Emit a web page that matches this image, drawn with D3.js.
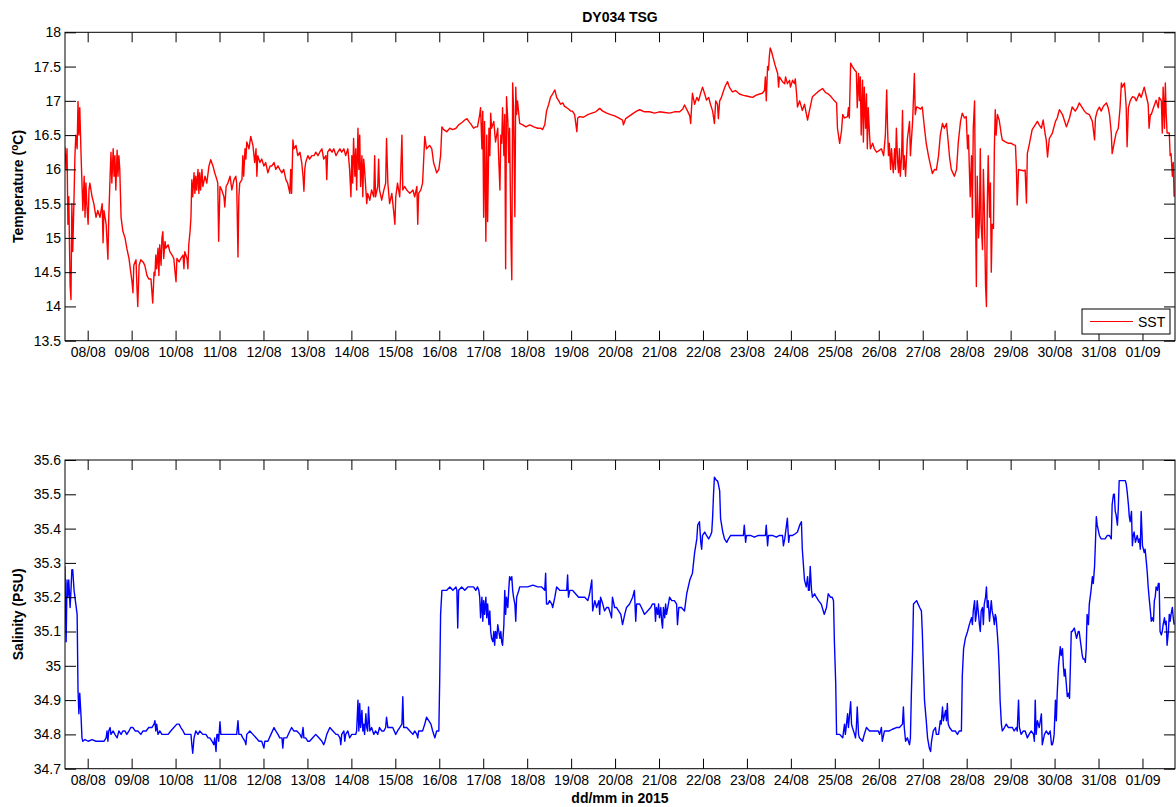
<!DOCTYPE html>
<html>
<head>
<meta charset="utf-8">
<script src="https://cdn.jsdelivr.net/npm/d3@7"></script>
<style>
body { margin: 0; background: #fff; }
svg text { font-family: "Liberation Sans", Arial, Helvetica, sans-serif; fill: #000; }
.tick line { stroke: #000; }
.tick text { font-size: 14px; }
</style>
</head>
<body>
<script>
// time is day of August 2015 (32 = 01/09)
var xStart = 7.484, xEnd = 32.74;

var tempTicks = [13.5, 14, 14.5, 15, 15.5, 16, 16.5, 17, 17.5, 18];
var salTicks = [34.7, 34.8, 34.9, 35, 35.1, 35.2, 35.3, 35.4, 35.5, 35.6];

// sea surface temperature (degC)
var sstData = [
[7.48,16.33],[7.51,16.0],[7.53,16.3],[7.55,15.2],[7.57,15.6],[7.60,14.3],[7.62,14.1],[7.64,15.5],[7.66,14.8],[7.69,15.6],[7.71,16.2],[7.73,16.5],[7.76,16.3],[7.78,16.99],[7.80,16.5],[7.82,16.9],[7.85,16.2],[7.87,15.8],[7.89,15.4],[7.92,15.9],[7.94,15.3],[7.96,15.8],[7.98,15.5],
[8.01,15.2],[8.03,15.7],[8.05,15.8],[8.10,15.6],[8.14,15.5],[8.19,15.3],[8.23,15.4],[8.28,15.3],[8.33,15.5],[8.35,14.93],[8.37,15.4],[8.42,15.2],[8.46,14.69],[8.48,15.3],[8.51,15.9],[8.53,16.25],[8.55,15.8],[8.58,16.3],[8.60,15.9],[8.62,16.2],[8.64,15.7],[8.67,16.28],[8.69,15.9],[8.71,16.2],[8.73,16.0],[8.76,15.3],[8.80,15.1],[8.85,15.0],[8.89,14.85],[8.94,14.7],[8.98,14.5],
[9.01,14.35],[9.03,14.2],[9.05,14.6],[9.10,14.68],[9.12,14.3],[9.14,14.0],[9.17,14.6],[9.21,14.68],[9.26,14.65],[9.30,14.6],[9.35,14.45],[9.39,14.4],[9.44,14.4],[9.48,14.05],[9.51,14.5],[9.53,14.45],[9.55,14.75],[9.57,14.55],[9.60,14.85],[9.62,14.45],[9.64,14.9],[9.67,14.6],[9.69,15.0],[9.71,15.09],[9.73,14.7],[9.76,14.95],[9.78,14.85],[9.83,14.9],[9.87,14.8],[9.92,14.75],[9.96,14.7],[9.98,14.55],
[10.01,14.36],[10.03,14.7],[10.08,14.65],[10.12,14.7],[10.17,14.75],[10.19,14.55],[10.21,14.8],[10.26,14.7],[10.28,14.55],[10.30,14.9],[10.33,15.1],[10.35,15.3],[10.37,15.85],[10.39,15.6],[10.42,15.95],[10.44,15.65],[10.46,15.9],[10.48,15.7],[10.51,16.0],[10.53,15.65],[10.55,15.95],[10.57,15.7],[10.60,16.0],[10.62,15.75],[10.67,15.9],[10.71,15.8],[10.76,16.05],[10.80,16.14],[10.85,16.05],[10.89,15.95],[10.94,15.85],[10.96,15.8],[10.98,14.95],
[11.01,15.75],[11.05,15.7],[11.10,15.6],[11.12,15.45],[11.15,15.75],[11.19,15.8],[11.24,15.9],[11.28,15.7],[11.33,15.85],[11.37,15.9],[11.39,15.8],[11.42,14.72],[11.44,15.6],[11.46,15.8],[11.51,15.85],[11.53,16.2],[11.55,15.9],[11.58,16.3],[11.60,16.15],[11.62,16.4],[11.67,16.3],[11.71,16.48],[11.76,16.35],[11.80,16.1],[11.83,16.3],[11.85,15.9],[11.87,16.2],[11.92,16.1],[11.96,16.15],
[12.01,16.05],[12.05,16.1],[12.10,15.95],[12.15,16.05],[12.19,16.05],[12.24,16.1],[12.28,16.0],[12.33,16.05],[12.37,16.0],[12.42,15.95],[12.46,16.0],[12.51,15.85],[12.55,15.8],[12.60,15.65],[12.62,16.0],[12.64,15.65],[12.67,16.43],[12.69,16.3],[12.74,16.35],[12.78,16.2],[12.83,16.25],[12.87,16.1],[12.90,15.9],[12.92,15.68],[12.94,16.0],[12.96,16.1],
[13.01,16.2],[13.05,16.15],[13.10,16.2],[13.15,16.2],[13.19,16.25],[13.24,16.2],[13.28,16.25],[13.33,16.3],[13.37,16.15],[13.42,16.2],[13.44,15.85],[13.46,16.25],[13.51,16.3],[13.56,16.25],[13.60,16.3],[13.65,16.2],[13.69,16.25],[13.74,16.3],[13.78,16.25],[13.83,16.3],[13.87,16.2],[13.92,16.3],[13.96,16.0],[13.99,15.6],
[14.01,16.2],[14.03,15.8],[14.05,16.45],[14.08,15.9],[14.10,16.3],[14.12,15.7],[14.15,16.6],[14.17,16.0],[14.19,16.5],[14.21,15.75],[14.24,16.2],[14.26,15.6],[14.28,16.15],[14.30,16.0],[14.33,15.7],[14.35,15.5],[14.37,15.65],[14.42,15.55],[14.46,15.7],[14.51,15.6],[14.53,16.2],[14.55,15.6],[14.60,15.75],[14.62,16.15],[14.64,15.7],[14.69,15.55],[14.74,15.7],[14.78,15.8],[14.80,16.45],[14.83,15.8],[14.87,15.5],[14.92,15.65],[14.96,15.4],[14.99,15.2],
[15.01,15.6],[15.05,15.8],[15.10,15.6],[15.12,15.9],[15.15,16.5],[15.17,15.7],[15.21,15.75],[15.26,15.7],[15.33,15.65],[15.40,15.7],[15.44,15.6],[15.49,15.75],[15.51,15.2],[15.53,15.65],[15.58,15.7],[15.62,15.8],[15.67,16.48],[15.71,16.3],[15.78,16.35],[15.83,16.3],[15.87,16.1],[15.90,16.04],[15.94,15.95],[15.99,16.0],
[16.03,16.2],[16.06,16.62],[16.10,16.58],[16.17,16.55],[16.24,16.6],[16.31,16.58],[16.38,16.6],[16.44,16.65],[16.51,16.68],[16.58,16.72],[16.63,16.74],[16.67,16.7],[16.72,16.66],[16.78,16.6],[16.83,16.62],[16.87,16.62],[16.92,16.8],[16.94,16.9],[16.97,16.3],[16.99,16.85],
[17.01,15.3],[17.03,16.7],[17.06,14.95],[17.08,16.5],[17.10,15.24],[17.13,16.6],[17.15,16.2],[17.17,16.82],[17.19,16.6],[17.24,16.7],[17.28,16.4],[17.33,16.6],[17.35,16.2],[17.38,15.7],[17.40,16.5],[17.42,16.38],[17.44,16.9],[17.47,16.2],[17.49,16.8],[17.51,14.55],[17.53,17.06],[17.56,16.7],[17.58,16.1],[17.60,16.6],[17.63,15.0],[17.65,14.39],[17.67,17.26],[17.69,16.9],[17.72,15.31],[17.74,17.2],[17.76,16.8],[17.78,17.0],[17.83,16.67],[17.90,16.65],[17.97,16.62],
[18.06,16.65],[18.15,16.62],[18.24,16.6],[18.31,16.6],[18.35,16.58],[18.40,16.65],[18.44,16.85],[18.49,16.95],[18.53,17.05],[18.58,17.1],[18.63,17.16],[18.67,17.05],[18.72,17.0],[18.76,16.95],[18.81,16.97],[18.85,16.92],[18.90,16.9],[18.94,16.88],[18.99,16.85],
[19.03,16.85],[19.08,16.8],[19.13,16.55],[19.15,16.75],[19.19,16.77],[19.28,16.76],[19.38,16.8],[19.47,16.82],[19.56,16.84],[19.65,16.89],[19.72,16.85],[19.81,16.82],[19.90,16.8],[19.99,16.78],
[20.08,16.75],[20.17,16.72],[20.19,16.65],[20.24,16.74],[20.33,16.78],[20.42,16.82],[20.49,16.85],[20.56,16.87],[20.67,16.84],[20.78,16.84],[20.90,16.82],
[21.01,16.84],[21.13,16.83],[21.24,16.82],[21.35,16.84],[21.47,16.84],[21.54,16.88],[21.58,16.94],[21.65,16.85],[21.70,16.78],[21.72,16.67],[21.74,16.9],[21.76,17.11],[21.81,16.95],[21.86,17.05],[21.90,17.0],[21.95,17.12],
[21.99,17.2],[22.04,17.1],[22.08,17.01],[22.13,17.05],[22.17,16.95],[22.22,16.85],[22.26,16.67],[22.29,17.0],[22.33,16.95],[22.35,16.74],[22.38,17.0],[22.42,17.05],[22.47,17.15],[22.51,17.22],[22.56,17.28],[22.60,17.2],[22.67,17.13],[22.74,17.15],[22.83,17.1],[22.92,17.08],
[22.99,17.07],[23.06,17.06],[23.13,17.05],[23.20,17.08],[23.29,17.1],[23.35,17.11],[23.40,17.15],[23.42,17.35],[23.44,17.0],[23.47,17.5],[23.49,17.45],[23.51,17.65],[23.53,17.77],[23.56,17.72],[23.60,17.62],[23.65,17.5],[23.70,17.4],[23.72,17.2],[23.74,17.35],[23.79,17.3],[23.81,17.28],[23.86,17.25],[23.88,17.35],[23.92,17.25],[23.97,17.3],
[23.99,17.2],[24.04,17.3],[24.08,17.25],[24.10,17.32],[24.13,17.1],[24.15,16.91],[24.20,17.0],[24.26,16.86],[24.31,16.95],[24.38,16.72],[24.42,16.85],[24.49,17.06],[24.56,17.1],[24.65,17.15],[24.72,17.18],[24.79,17.12],[24.85,17.1],[24.90,17.07],[24.94,17.04],[24.99,17.0],
[25.04,16.97],[25.06,16.6],[25.11,16.38],[25.15,16.55],[25.18,16.8],[25.22,16.75],[25.29,16.77],[25.31,16.9],[25.33,16.75],[25.36,17.55],[25.40,17.5],[25.45,17.45],[25.49,17.42],[25.51,16.9],[25.54,17.4],[25.56,17.0],[25.58,17.35],[25.60,16.5],[25.63,17.3],[25.65,16.4],[25.67,17.2],[25.70,16.6],[25.72,17.1],[25.74,16.3],[25.76,16.9],[25.79,16.5],[25.81,16.3],[25.86,16.38],[25.90,16.3],[25.95,16.25],
[26.02,16.28],[26.06,16.3],[26.11,16.2],[26.15,16.5],[26.18,17.16],[26.20,16.6],[26.22,16.2],[26.24,16.38],[26.27,16.0],[26.29,16.3],[26.31,16.1],[26.33,15.95],[26.36,16.3],[26.38,16.0],[26.40,16.6],[26.43,16.1],[26.45,15.95],[26.47,16.3],[26.49,15.9],[26.52,16.2],[26.54,16.86],[26.56,16.0],[26.58,16.2],[26.61,15.9],[26.65,16.44],[26.70,16.7],[26.72,16.2],[26.77,16.7],[26.81,17.4],[26.83,16.8],[26.86,16.91],[26.90,16.9],[26.95,16.88],
[26.99,16.91],[27.04,16.6],[27.08,16.38],[27.13,16.2],[27.18,16.05],[27.22,15.94],[27.27,16.0],[27.31,15.99],[27.36,16.2],[27.40,16.5],[27.45,16.67],[27.49,16.6],[27.54,16.67],[27.58,16.4],[27.61,16.18],[27.65,16.0],[27.72,15.9],[27.77,16.0],[27.81,16.4],[27.86,16.7],[27.90,16.82],[27.95,16.75],[27.99,16.77],
[28.02,16.3],[28.04,16.5],[28.06,16.04],[28.08,15.6],[28.11,16.2],[28.13,15.3],[28.15,16.6],[28.18,17.0],[28.20,15.5],[28.22,14.29],[28.24,15.9],[28.27,15.0],[28.29,15.26],[28.31,16.3],[28.33,15.2],[28.36,14.83],[28.38,16.0],[28.40,15.5],[28.43,14.3],[28.45,14.0],[28.47,15.5],[28.49,16.2],[28.52,15.3],[28.54,15.8],[28.56,14.5],[28.58,15.2],[28.61,15.14],[28.63,16.3],[28.65,16.87],[28.67,16.5],[28.70,16.8],[28.74,16.72],[28.79,16.5],[28.81,16.43],[28.88,16.4],[28.95,16.38],
[29.02,16.38],[29.06,16.36],[29.11,16.35],[29.13,16.04],[29.15,15.48],[29.18,16.0],[29.22,15.99],[29.29,15.98],[29.33,15.99],[29.36,15.51],[29.38,16.23],[29.42,16.35],[29.49,16.58],[29.56,16.65],[29.61,16.7],[29.65,16.65],[29.70,16.6],[29.74,16.72],[29.79,16.5],[29.81,16.43],[29.84,16.18],[29.88,16.45],[29.95,16.53],
[30.02,16.7],[30.06,16.75],[30.11,16.87],[30.18,16.8],[30.22,16.72],[30.27,16.62],[30.34,16.75],[30.40,16.91],[30.47,16.85],[30.52,16.9],[30.56,16.97],[30.63,16.9],[30.68,16.85],[30.72,16.82],[30.79,16.8],[30.86,16.7],[30.91,16.43],[30.93,16.75],[30.97,16.85],
[31.02,16.91],[31.06,16.85],[31.11,16.92],[31.18,16.97],[31.22,16.9],[31.25,16.8],[31.29,16.53],[31.31,16.23],[31.36,16.4],[31.40,16.53],[31.45,16.6],[31.49,16.9],[31.52,17.26],[31.54,17.2],[31.59,17.26],[31.61,17.1],[31.63,16.9],[31.65,16.33],[31.68,16.9],[31.72,17.0],[31.77,17.06],[31.82,17.05],[31.86,17.0],[31.93,17.11],[31.97,17.05],
[32.04,17.2],[32.09,17.06],[32.13,16.95],[32.15,16.6],[32.18,16.8],[32.20,16.8],[32.25,16.9],[32.31,17.01],[32.36,16.9],[32.38,17.05],[32.43,17.0],[32.45,16.53],[32.47,17.2],[32.50,16.6],[32.52,17.26],[32.54,16.8],[32.56,16.53],[32.61,16.53],[32.63,16.2],[32.65,16.23],[32.68,15.9],[32.70,16.1],[32.72,15.6]
];

// salinity (PSU)
var salData = [
[7.48,35.29],[7.51,35.07],[7.53,35.25],[7.55,35.2],[7.57,35.25],[7.60,35.17],[7.62,35.22],[7.64,35.28],[7.66,35.28],[7.69,35.22],[7.71,35.2],[7.73,35.18],[7.76,35.15],[7.78,34.93],[7.80,34.86],[7.82,34.92],[7.85,34.85],[7.87,34.79],[7.89,34.78],[7.94,34.785],
[8.01,34.78],[8.10,34.785],[8.19,34.78],[8.28,34.78],[8.37,34.78],[8.42,34.79],[8.44,34.81],[8.46,34.78],[8.48,34.81],[8.51,34.82],[8.53,34.8],[8.58,34.81],[8.62,34.8],[8.67,34.79],[8.71,34.81],[8.76,34.8],[8.80,34.81],[8.85,34.81],[8.89,34.8],[8.94,34.81],[8.98,34.82],
[9.03,34.82],[9.08,34.81],[9.14,34.81],[9.21,34.8],[9.26,34.81],[9.33,34.81],[9.39,34.82],[9.46,34.82],[9.51,34.83],[9.53,34.84],[9.55,34.81],[9.57,34.83],[9.60,34.8],[9.64,34.81],[9.69,34.8],[9.73,34.8],[9.78,34.8],[9.83,34.8],[9.89,34.81],[9.96,34.82],
[10.03,34.83],[10.08,34.83],[10.12,34.82],[10.17,34.81],[10.21,34.8],[10.26,34.8],[10.30,34.8],[10.35,34.8],[10.37,34.77],[10.39,34.745],[10.42,34.79],[10.46,34.81],[10.51,34.8],[10.55,34.81],[10.62,34.8],[10.69,34.8],[10.74,34.79],[10.78,34.79],[10.83,34.78],[10.87,34.77],[10.89,34.79],[10.92,34.75],[10.94,34.8],[10.96,34.8],[10.98,34.78],
[11.01,34.837],[11.03,34.8],[11.08,34.8],[11.15,34.8],[11.21,34.8],[11.28,34.8],[11.35,34.8],[11.39,34.8],[11.42,34.84],[11.44,34.8],[11.49,34.8],[11.53,34.79],[11.58,34.78],[11.60,34.77],[11.62,34.8],[11.69,34.81],[11.76,34.8],[11.83,34.79],[11.90,34.78],[11.96,34.78],
[12.01,34.76],[12.03,34.78],[12.10,34.78],[12.17,34.8],[12.24,34.82],[12.28,34.81],[12.33,34.8],[12.37,34.79],[12.42,34.79],[12.44,34.76],[12.46,34.79],[12.53,34.79],[12.60,34.81],[12.64,34.82],[12.69,34.81],[12.76,34.81],[12.83,34.8],[12.87,34.79],[12.90,34.82],[12.92,34.79],[12.96,34.79],
[13.01,34.78],[13.05,34.78],[13.12,34.79],[13.19,34.8],[13.26,34.79],[13.33,34.78],[13.37,34.77],[13.40,34.78],[13.44,34.8],[13.51,34.82],[13.58,34.81],[13.65,34.8],[13.69,34.8],[13.74,34.79],[13.76,34.77],[13.78,34.8],[13.83,34.81],[13.85,34.78],[13.87,34.8],[13.92,34.81],[13.96,34.79],
[14.01,34.8],[14.05,34.8],[14.10,34.8],[14.12,34.81],[14.15,34.9],[14.17,34.81],[14.19,34.89],[14.21,34.82],[14.24,34.87],[14.26,34.81],[14.28,34.83],[14.30,34.8],[14.33,34.86],[14.35,34.82],[14.37,34.81],[14.39,34.88],[14.42,34.81],[14.46,34.82],[14.51,34.8],[14.55,34.81],[14.60,34.8],[14.64,34.82],[14.69,34.81],[14.74,34.81],[14.78,34.82],[14.80,34.85],[14.83,34.82],[14.87,34.82],[14.94,34.82],
[15.01,34.8],[15.05,34.81],[15.10,34.82],[15.15,34.83],[15.17,34.91],[15.19,34.82],[15.26,34.82],[15.33,34.81],[15.40,34.8],[15.44,34.81],[15.49,34.8],[15.51,34.79],[15.53,34.81],[15.58,34.81],[15.62,34.81],[15.67,34.83],[15.71,34.85],[15.76,34.84],[15.81,34.83],[15.85,34.81],[15.90,34.79],[15.94,34.81],[15.99,34.81],
[16.01,34.96],[16.03,35.15],[16.06,35.22],[16.10,35.22],[16.17,35.22],[16.24,35.23],[16.31,35.22],[16.38,35.23],[16.40,35.22],[16.42,35.11],[16.44,35.22],[16.51,35.23],[16.58,35.22],[16.65,35.23],[16.72,35.23],[16.78,35.23],[16.83,35.22],[16.87,35.23],[16.90,35.22],[16.92,35.2],[16.94,35.14],[16.97,35.2],[16.99,35.13],
[17.01,35.19],[17.03,35.15],[17.06,35.2],[17.08,35.14],[17.10,35.18],[17.13,35.12],[17.15,35.16],[17.17,35.1],[17.19,35.08],[17.22,35.07],[17.24,35.1],[17.26,35.06],[17.28,35.1],[17.31,35.08],[17.33,35.12],[17.38,35.08],[17.40,35.1],[17.42,35.07],[17.44,35.06],[17.47,35.12],[17.49,35.22],[17.51,35.15],[17.53,35.2],[17.56,35.17],[17.58,35.22],[17.60,35.26],[17.63,35.25],[17.65,35.26],[17.67,35.22],[17.69,35.2],[17.72,35.18],[17.74,35.13],[17.76,35.2],[17.81,35.22],[17.83,35.23],[17.92,35.23],
[18.01,35.23],[18.13,35.235],[18.24,35.23],[18.33,35.23],[18.40,35.22],[18.42,35.27],[18.44,35.18],[18.47,35.18],[18.51,35.19],[18.56,35.18],[18.58,35.17],[18.63,35.2],[18.67,35.23],[18.74,35.22],[18.81,35.22],[18.88,35.22],[18.90,35.22],[18.92,35.265],[18.94,35.2],[18.97,35.22],
[19.03,35.22],[19.10,35.21],[19.17,35.2],[19.24,35.2],[19.31,35.2],[19.38,35.19],[19.42,35.21],[19.47,35.25],[19.49,35.16],[19.54,35.19],[19.58,35.17],[19.63,35.19],[19.65,35.15],[19.67,35.2],[19.72,35.18],[19.76,35.16],[19.81,35.17],[19.85,35.17],[19.90,35.15],[19.92,35.14],[19.94,35.2],[19.99,35.17],
[20.03,35.17],[20.08,35.16],[20.13,35.15],[20.17,35.12],[20.22,35.15],[20.26,35.17],[20.33,35.18],[20.40,35.2],[20.44,35.22],[20.47,35.13],[20.49,35.18],[20.56,35.18],[20.60,35.17],[20.67,35.15],[20.74,35.16],[20.81,35.17],[20.85,35.18],[20.90,35.18],[20.92,35.13],[20.94,35.17],[20.97,35.15],[20.99,35.18],
[21.01,35.14],[21.04,35.17],[21.06,35.13],[21.08,35.11],[21.10,35.17],[21.13,35.14],[21.15,35.18],[21.17,35.15],[21.20,35.17],[21.24,35.2],[21.29,35.19],[21.35,35.19],[21.40,35.18],[21.42,35.12],[21.45,35.17],[21.51,35.17],[21.58,35.16],[21.63,35.21],[21.70,35.25],[21.76,35.27],[21.81,35.33],[21.86,35.37],[21.88,35.41],[21.92,35.42],[21.95,35.36],[21.97,35.34],
[21.99,35.38],[22.04,35.39],[22.08,35.38],[22.13,35.37],[22.17,35.38],[22.20,35.39],[22.22,35.435],[22.24,35.5],[22.26,35.55],[22.31,35.54],[22.33,35.54],[22.35,35.53],[22.38,35.51],[22.40,35.43],[22.45,35.39],[22.49,35.37],[22.54,35.36],[22.58,35.37],[22.63,35.38],[22.67,35.38],[22.76,35.38],[22.85,35.38],[22.92,35.38],[22.94,35.41],[22.97,35.36],
[22.99,35.38],[23.08,35.38],[23.17,35.375],[23.26,35.38],[23.35,35.38],[23.42,35.38],[23.44,35.41],[23.47,35.35],[23.49,35.38],[23.58,35.38],[23.67,35.375],[23.74,35.38],[23.81,35.38],[23.83,35.35],[23.86,35.37],[23.92,35.43],[23.95,35.36],[23.97,35.38],
[24.04,35.38],[24.10,35.385],[24.15,35.39],[24.20,35.41],[24.24,35.42],[24.26,35.34],[24.31,35.25],[24.35,35.23],[24.38,35.26],[24.40,35.22],[24.42,35.22],[24.44,35.29],[24.47,35.22],[24.49,35.2],[24.54,35.21],[24.58,35.2],[24.63,35.19],[24.69,35.18],[24.76,35.15],[24.81,35.17],[24.85,35.21],[24.90,35.2],[24.94,35.2],[24.97,35.19],
[24.99,35.07],[25.02,34.95],[25.04,34.8],[25.11,34.8],[25.18,34.79],[25.22,34.83],[25.24,34.8],[25.29,34.86],[25.31,34.82],[25.36,34.895],[25.38,34.83],[25.40,34.82],[25.45,34.8],[25.47,34.79],[25.49,34.82],[25.51,34.88],[25.54,34.8],[25.56,34.79],[25.63,34.78],[25.67,34.8],[25.72,34.82],[25.79,34.81],[25.86,34.81],[25.92,34.81],
[25.99,34.81],[26.02,34.8],[26.06,34.82],[26.08,34.78],[26.13,34.81],[26.18,34.81],[26.24,34.81],[26.31,34.815],[26.40,34.82],[26.47,34.82],[26.54,34.83],[26.56,34.88],[26.58,34.82],[26.61,34.78],[26.65,34.79],[26.70,34.77],[26.72,34.79],[26.74,34.91],[26.77,35.05],[26.79,35.18],[26.86,35.19],[26.93,35.17],[26.97,35.16],
[26.99,35.1],[27.02,34.98],[27.04,34.9],[27.08,34.84],[27.11,34.79],[27.15,34.76],[27.18,34.75],[27.20,34.78],[27.24,34.81],[27.29,34.82],[27.31,34.8],[27.36,34.8],[27.40,34.84],[27.42,34.83],[27.45,34.88],[27.47,34.84],[27.52,34.87],[27.54,34.84],[27.56,34.89],[27.58,34.83],[27.61,34.82],[27.67,34.81],[27.74,34.81],[27.79,34.8],[27.83,34.81],[27.88,34.81],[27.90,34.97],[27.93,35.05],[27.97,35.08],
[28.02,35.1],[28.06,35.12],[28.11,35.14],[28.13,35.12],[28.15,35.16],[28.18,35.19],[28.20,35.13],[28.22,35.15],[28.24,35.19],[28.27,35.15],[28.29,35.12],[28.31,35.1],[28.33,35.16],[28.36,35.17],[28.38,35.12],[28.40,35.18],[28.43,35.2],[28.45,35.23],[28.47,35.17],[28.49,35.19],[28.52,35.13],[28.54,35.16],[28.56,35.19],[28.58,35.16],[28.61,35.14],[28.63,35.12],[28.65,35.15],[28.67,35.14],[28.70,35.09],[28.72,35.05],[28.74,34.99],[28.76,34.9],[28.79,34.83],[28.81,34.81],[28.86,34.82],[28.90,34.83],[28.95,34.82],[28.99,34.82],
[29.04,34.82],[29.08,34.81],[29.13,34.82],[29.15,34.81],[29.18,34.9],[29.20,34.82],[29.24,34.8],[29.29,34.81],[29.33,34.81],[29.38,34.79],[29.42,34.8],[29.47,34.81],[29.52,34.8],[29.54,34.78],[29.56,34.9],[29.58,34.8],[29.61,34.84],[29.65,34.82],[29.70,34.86],[29.72,34.77],[29.77,34.8],[29.81,34.81],[29.86,34.8],[29.90,34.81],[29.93,34.77],[29.95,34.77],[29.97,34.78],
[29.99,34.8],[30.02,34.9],[30.04,34.84],[30.06,34.92],[30.09,35.0],[30.13,35.056],[30.15,35.03],[30.18,35.05],[30.20,35.0],[30.22,34.97],[30.24,34.99],[30.29,34.91],[30.31,34.92],[30.34,34.905],[30.36,35.0],[30.38,35.1],[30.40,35.1],[30.45,35.11],[30.50,35.08],[30.54,35.1],[30.56,35.1],[30.59,35.07],[30.61,35.05],[30.63,35.03],[30.65,35.02],[30.68,35.02],[30.70,35.01],[30.72,35.05],[30.74,35.15],[30.77,35.12],[30.79,35.18],[30.83,35.22],[30.86,35.26],[30.88,35.24],[30.91,35.29],[30.93,35.36],[30.95,35.435],[30.97,35.41],
[31.02,35.38],[31.06,35.37],[31.11,35.37],[31.15,35.37],[31.20,35.38],[31.25,35.38],[31.29,35.37],[31.31,35.47],[31.34,35.5],[31.36,35.5],[31.38,35.45],[31.40,35.44],[31.43,35.41],[31.45,35.46],[31.47,35.54],[31.52,35.54],[31.56,35.54],[31.61,35.54],[31.63,35.53],[31.65,35.51],[31.68,35.47],[31.70,35.435],[31.72,35.42],[31.75,35.45],[31.77,35.35],[31.79,35.38],[31.81,35.39],[31.84,35.36],[31.86,35.37],[31.88,35.38],[31.91,35.36],[31.93,35.37],[31.95,35.34],[31.97,35.45],
[32.00,35.35],[32.02,35.34],[32.04,35.33],[32.06,35.34],[32.09,35.3],[32.11,35.27],[32.13,35.23],[32.15,35.2],[32.18,35.16],[32.20,35.13],[32.22,35.14],[32.25,35.13],[32.27,35.19],[32.29,35.2],[32.31,35.23],[32.34,35.22],[32.36,35.24],[32.38,35.24],[32.40,35.1],[32.43,35.09],[32.45,35.1],[32.47,35.12],[32.50,35.14],[32.52,35.12],[32.54,35.13],[32.56,35.06],[32.59,35.1],[32.61,35.15],[32.63,35.13],[32.65,35.15],[32.68,35.17],[32.70,35.14],[32.72,35.12]
];

var width = 1176, height = 807;
var left = 65, right = 1175;

// day-of-August number -> UTC date
function toDate(d) {
    return new Date(Date.UTC(2015, 7, 1) + (d - 1) * 864e5);
}

var svg = d3.select("body").append("svg")
    .attr("width", width)
    .attr("height", height);

var x = d3.scaleUtc()
    .domain([toDate(xStart), toDate(xEnd)])
    .range([left, right]);

var dayTicks = d3.utcDay.range(toDate(8), toDate(32.5));
var fmtDay = d3.utcFormat("%d/%m");
var fmtNum = function(v){ return String(+v.toFixed(1)); };

var panels = [
    {id: "t", top: 32.3, bottom: 340.7, data: sstData, domain: [13.5, 18], ticks: tempTicks, color: "#ff0000"},
    {id: "s", top: 460, bottom: 768.7, data: salData, domain: [34.7, 35.6], ticks: salTicks, color: "#0000ff"}
];

panels.forEach(function(p){
    var y = d3.scaleLinear().domain(p.domain).range([p.bottom, p.top]);

    svg.append("clipPath").attr("id", "clip-" + p.id)
        .append("rect")
        .attr("x", left).attr("y", p.top)
        .attr("width", right - left).attr("height", p.bottom - p.top);

    var line = d3.line()
        .x(function(d){ return x(toDate(d[0])); })
        .y(function(d){ return y(d[1]); });

    svg.append("path")
        .datum(p.data)
        .attr("clip-path", "url(#clip-" + p.id + ")")
        .attr("fill", "none")
        .attr("stroke", p.color)
        .attr("stroke-width", 1.4)
        .attr("stroke-linejoin", "round")
        .attr("d", line);

    // ticks on all four sides, pointing inward (matlab style)
    var gb = svg.append("g").attr("transform", "translate(0," + p.bottom + ")")
        .call(d3.axisBottom(x).tickValues(dayTicks).tickFormat(fmtDay).tickSize(-10).tickPadding(6));
    var gt = svg.append("g").attr("transform", "translate(0," + p.top + ")")
        .call(d3.axisTop(x).tickValues(dayTicks).tickFormat("").tickSize(-10));
    var gl = svg.append("g").attr("transform", "translate(" + left + ",0)")
        .call(d3.axisLeft(y).tickValues(p.ticks).tickFormat(fmtNum).tickSize(-11).tickPadding(4));
    var gr = svg.append("g").attr("transform", "translate(" + right + ",0)")
        .call(d3.axisRight(y).tickValues(p.ticks).tickFormat("").tickSize(-11));
    [gb, gt, gl, gr].forEach(function(g){
        g.select(".domain").remove();
        g.attr("font-family", null).attr("font-size", null);
    });

    svg.append("rect")
        .attr("x", left).attr("y", p.top)
        .attr("width", right - left).attr("height", p.bottom - p.top)
        .attr("fill", "none").attr("stroke", "#000").attr("stroke-width", 1);
});

// title
svg.append("text")
    .attr("x", 620).attr("y", 22)
    .attr("text-anchor", "middle")
    .attr("font-size", "14px").attr("font-weight", "bold")
    .text("DY034 TSG");

// y labels
var tl = svg.append("text")
    .attr("transform", "translate(23," + (32.3 + 340.7) / 2 + ") rotate(-90)")
    .attr("text-anchor", "middle")
    .attr("font-size", "14px").attr("font-weight", "bold");
tl.append("tspan").text("Temperature (");
tl.append("tspan").attr("dy", -5).attr("font-size", "10px").text("o");
tl.append("tspan").attr("dy", 5).text("C)");

svg.append("text")
    .attr("transform", "translate(23," + (460 + 768.7) / 2 + ") rotate(-90)")
    .attr("text-anchor", "middle")
    .attr("font-size", "14px").attr("font-weight", "bold")
    .text("Salinity (PSU)");

// x label
svg.append("text")
    .attr("x", 620).attr("y", 803)
    .attr("text-anchor", "middle")
    .attr("font-size", "14px").attr("font-weight", "bold")
    .text("dd/mm in 2015");

// legend
var lg = svg.append("g");
lg.append("rect")
    .attr("x", 1082).attr("y", 309).attr("width", 88).attr("height", 25)
    .attr("fill", "#fff").attr("stroke", "#000");
lg.append("line")
    .attr("x1", 1090).attr("x2", 1133).attr("y1", 321.5).attr("y2", 321.5)
    .attr("stroke", "#ff0000");
lg.append("text")
    .attr("x", 1138).attr("y", 326.5)
    .attr("font-size", "14px")
    .text("SST");
</script>
</body>
</html>
